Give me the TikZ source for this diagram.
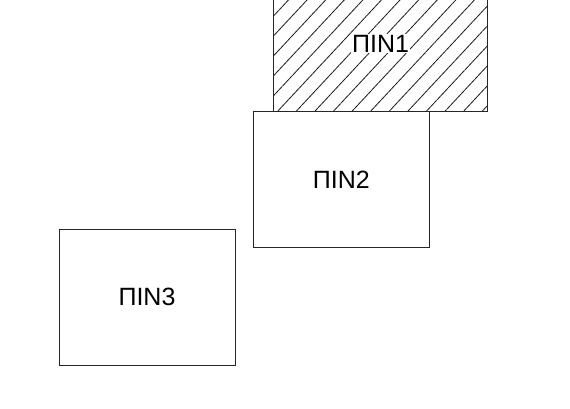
\documentclass[tikz,border=0pt]{standalone}
\usepackage{fontspec}
\setmainfont{Liberation Sans}
\usetikzlibrary{patterns.meta}
\tikzset{
  pinbox/.style={draw=black!85, line width=0.9pt, minimum width=176pt, minimum height=136pt, inner sep=0pt},
  pintext/.style={inner sep=1pt, font=\fontsize{25}{30}\selectfont},
}
\begin{document}
\begin{tikzpicture}[x=1pt,y=-1pt]
    \useasboundingbox (0,0) rectangle (570,409);
    \clip (0,0) rectangle (570,409);
    % Рисуем заштрихованный блок (верх уходит за край)
    \node[pinbox, minimum width=214pt, pattern={Lines[angle=47,distance=13.6pt,line width=0.8pt]}, pattern color=black!90] (pin1) at (380.6,43.5) {};
    \node[pintext, fill=white] (txt1) at (pin1.center) {ПIN1};
    % Рисуем остальные блоки
    \node[pinbox, fill=white] (pin2) at (341.3,179.7) {};
    \node[pintext] (txt2) at (pin2.center) {ПIN2};
    \node[pinbox] (pin3) at (147,297) {};
    \node[pintext] (txt3) at (pin3.center) {ПIN3};
\end{tikzpicture}
\end{document}
